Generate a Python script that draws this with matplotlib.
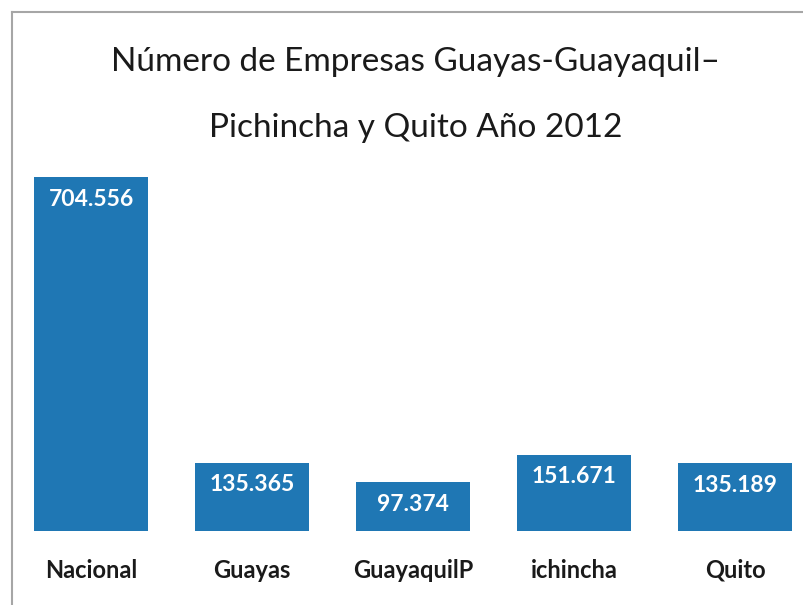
import matplotlib.pyplot as plt
from matplotlib.lines import Line2D

categories = ["Nacional", "Guayas", "GuayaquilP", "ichincha", "Quito"]
values = [704556, 135365, 97374, 151671, 135189]
value_labels = ["704.556", "135.365", "97.374", "151.671", "135.189"]
title_lines = ["Número de Empresas Guayas-Guayaquil–", "Pichincha y Quito Año 2012"]

plt.rcParams['font.family'] = ['Lato', 'DejaVu Sans']

W, H = 804, 605
fig = plt.figure(figsize=(W / 100, H / 100), dpi=100)

# axes geometry in pixels
spacing = 161
left_px = 91 - spacing / 2
base_px = 531
scale = 354 / 704556  # px per unit
ymax = 800000
ax = fig.add_axes([left_px / W, (H - base_px) / H, 5 * spacing / W, ymax * scale / H])
ax.set_xlim(-0.5, 4.5)
ax.set_ylim(0, ymax)
ax.axis('off')

bars = ax.bar(range(len(values)), values, width=0.71, color="#1f77b4")
for i, (v, lab) in enumerate(zip(values, value_labels)):
    ax.annotate(lab, (i, v), xytext=(0, -22), textcoords='offset pixels',
                ha='center', va='center', color='white', fontsize=16.5, fontweight='bold')
    ax.annotate(categories[i], (i, 0), xytext=(0, -39), textcoords='offset pixels',
                ha='center', va='center', color='#1a1a1a', fontsize=17, fontweight='bold')

fig.text(416 / W, 1 - 62 / H, title_lines[0], ha='center', va='center', fontsize=24,
         color='#1a1a1a', fontweight='normal')
fig.text(416 / W, 1 - 128 / H, title_lines[1], ha='center', va='center', fontsize=24,
         color='#1a1a1a', fontweight='normal')

# outer border (extends beyond the image on right and bottom)
fig.add_artist(Line2D([12 / W, 1.0], [1 - 12 / H, 1 - 12 / H], color='#a6a6a6', lw=1.5,
                      transform=fig.transFigure))
fig.add_artist(Line2D([12 / W, 12 / W], [1 - 12 / H, 0], color='#a6a6a6', lw=1.5,
                      transform=fig.transFigure))

fig.savefig("out.png", dpi=100)
